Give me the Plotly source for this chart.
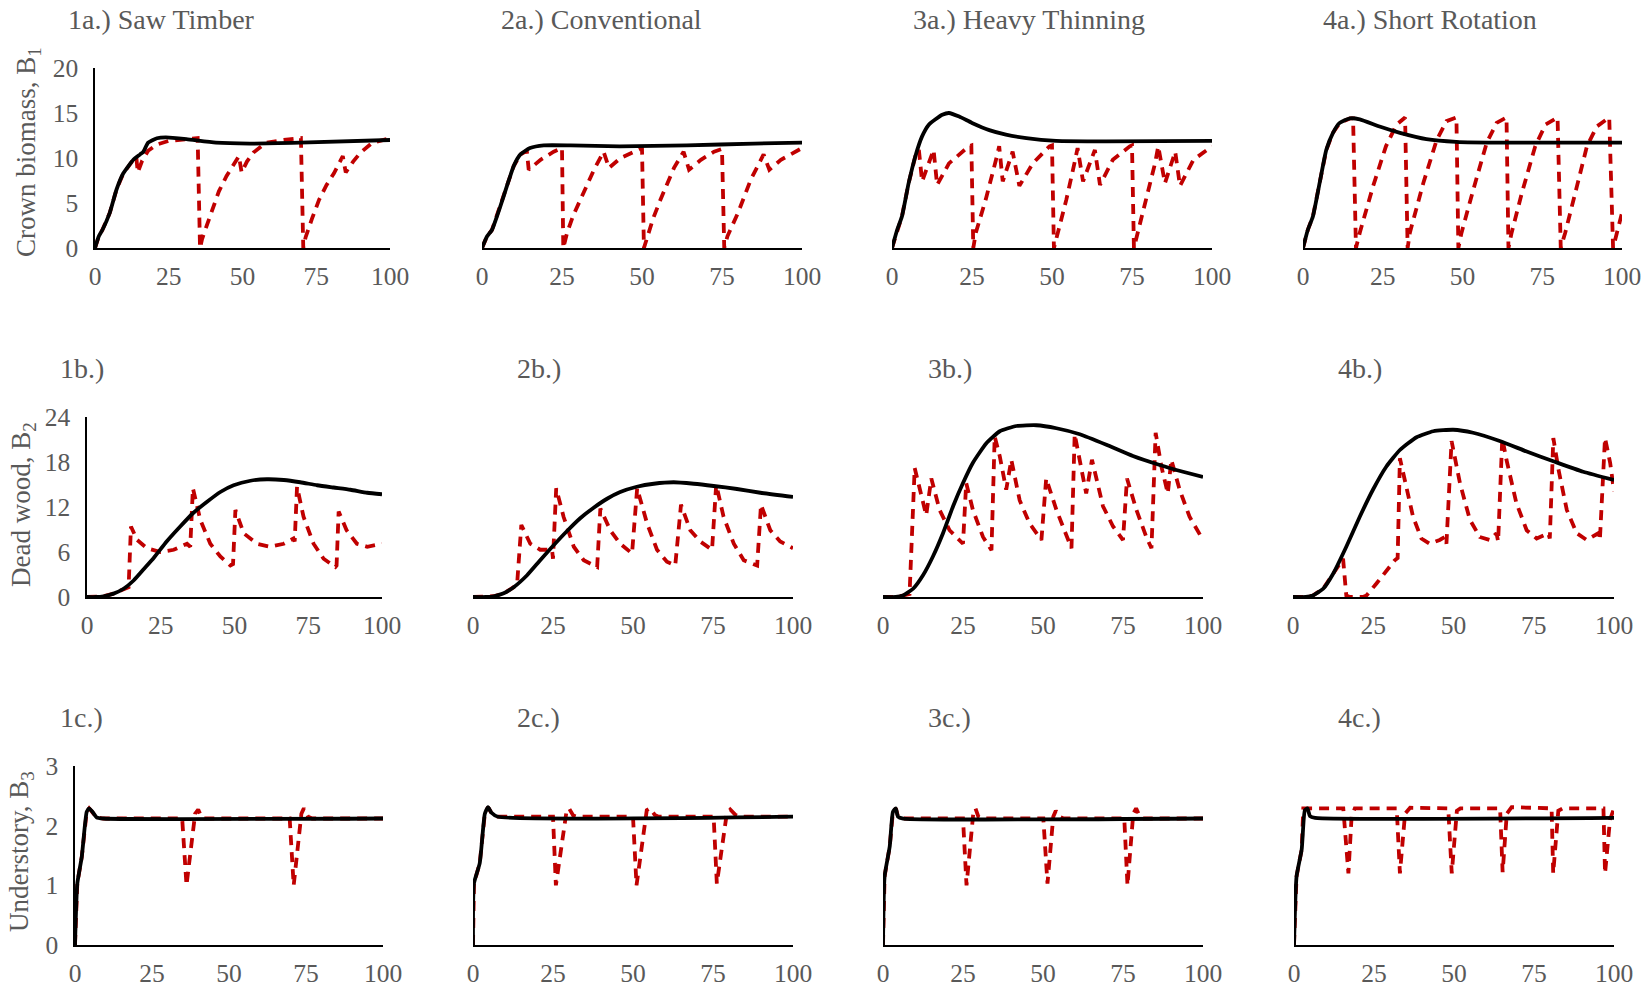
import plotly.graph_objects as go

# ---------------- data ----------------
# Row a: crown biomass B1
saw_b1_x_solid = [0, 1.3, 2.5, 5, 7.3, 9.6, 13, 15.3, 16.4, 18, 21, 24, 31, 41, 52.5, 69.5, 100]
saw_b1_solid = [0, 1.3, 2, 3.9, 6.5, 8.3, 9.8, 10.4, 10.7, 11.7, 12.2, 12.3, 12.1, 11.7, 11.6, 11.7, 12.0]
saw_b1_x_dash = [0, 1.3, 2.5, 5, 7.3, 9.6, 13, 14, 14.5, 16, 18, 21, 25, 30, 34.8, 35.6, 36.3, 38, 40, 42, 44.6, 47, 48.8,
                 49.7, 51.5, 53.7, 58, 64, 69.8, 70.6, 71.4, 73.5, 76, 78.5, 81, 84, 85, 87.5, 90, 94, 100]
saw_b1_dash = [0, 1.3, 2, 3.9, 6.5, 8.3, 9.8, 10.1, 8.4, 9.7, 10.8, 11.5, 11.9, 12.1, 12.2, 0, 1.0, 2.6, 4.6, 6.3, 8.0, 9.3, 10.2,
               8.4, 9.6, 10.6, 11.7, 12.0, 12.2, 0, 1.2, 3.2, 5.4, 7.0, 8.3, 10.2, 8.4, 9.6, 10.6, 11.7, 12.2]

con_b1_x_solid = [0, 1.6, 3.1, 5.7, 7.8, 9.9, 12, 15, 19.3, 27.7, 43, 64, 85, 100]
con_b1_solid = [0, 1.3, 2, 4.6, 6.9, 9.1, 10.4, 11.1, 11.4, 11.4, 11.3, 11.4, 11.6, 11.7]
con_b1_x_dash = [0, 1.6, 3.1, 5.7, 7.8, 9.9, 12, 14, 14.6, 18.3, 22.4, 25, 25.4, 26.6, 28.5, 30.8, 35, 38, 39.7, 43.3, 47.5,
                 50, 50.6, 51.7, 53.5, 55.8, 60, 63, 64.7, 68.4, 72.5, 75, 75.7, 76.7, 80, 84, 88, 89.8, 93.4, 100]
con_b1_dash = [0, 1.3, 2, 4.6, 6.9, 9.1, 10.4, 10.8, 8.7, 9.8, 10.7, 11.1, 0, 1.7, 3.6, 5.4, 8.7, 10.7, 8.9, 10.0, 10.7,
               11.1, 0, 1.3, 3.3, 5.4, 8.9, 10.7, 8.7, 9.8, 10.7, 11.0, 0, 1.3, 3.9, 7.6, 10.4, 8.7, 9.8, 11.1]

hvy_b1_x_solid = [0, 1.6, 3.1, 5.2, 7.3, 9.4, 11.5, 13.6, 15.7, 17.8, 21, 25, 30.4, 35.6, 42, 51.3, 67, 100]
hvy_b1_solid = [0, 2, 3.5, 7.2, 10.2, 12.4, 13.7, 14.3, 14.8, 15, 14.6, 13.9, 13.1, 12.6, 12.2, 11.9, 11.85, 11.9]
hvy_b1_x_dash = [0, 1.6, 3.1, 5.2, 7.3, 8.4, 9.4, 13, 14.1, 17.8, 21, 24, 24.8, 25.4, 26.2, 29.3, 32.5, 33.5, 34.6, 37.7,
                 39.8, 44, 49.2, 50, 50.6, 51.8, 54.5, 57, 58, 59.7, 63.4, 65, 69, 74.3, 75, 75.6, 77, 79.6, 82.2, 83.2,
                 85.3, 88.5, 90, 94.2, 100]
hvy_b1_dash = [0, 2, 3.5, 7.2, 10.2, 10.9, 7.4, 10.9, 7.0, 9.4, 10.4, 11.3, 11.4, 0, 1.7, 5.4, 9.8, 11.3, 7.4, 10.7,
               6.9, 9.4, 11.3, 11.4, 0, 1.7, 5.4, 9.4, 11.1, 7.4, 10.9, 7.0, 9.8, 11.3, 11.4, 0, 2.0, 5.4, 9.4, 11.3,
               7.2, 10.7, 6.9, 9.8, 11.3]

sht_b1_x_solid = [0, 1.5, 3.1, 5.2, 7.3, 9.4, 11.5, 14.7, 17.8, 24, 30.4, 38.7, 48, 64, 100]
sht_b1_solid = [0, 2, 3.5, 7.2, 10.9, 12.8, 13.9, 14.4, 14.3, 13.5, 12.8, 12.1, 11.8, 11.7, 11.7]
sht_b1_x_dash = [0, 1.5, 3.1, 5.2, 7.3, 9.4, 11.5, 14.7, 15.7, 16.6, 17.8, 22, 26, 29.3, 31.4, 32, 32.8, 33.5, 37.7, 41.9,
                 45, 47.6, 48.1, 48.7, 49.7, 53.4, 57.6, 60.7, 63.4, 63.8, 64.4, 65.4, 68.6, 72.8, 76, 79.1, 79.8, 80.8,
                 82.2, 85.9, 89, 92.1, 95.3, 96, 97.2, 97.9, 100]
sht_b1_dash = [0, 2, 3.5, 7.2, 10.9, 12.8, 13.9, 14.4, 14.4, 0, 1.7, 6.9, 11.3, 13.7, 14.4, 14.5, 0, 1.7, 7.2, 12.0,
               14.1, 14.4, 14.5, 0, 1.7, 6.5, 11.7, 13.9, 14.4, 14.5, 0, 1.7, 6.1, 11.3, 13.7, 14.4, 14.5, 0,
               1.7, 6.9, 11.3, 13.5, 14.4, 14.5, 0, 0.9, 3.9]

# Row b: dead wood B2
saw_b2_x_solid = [0, 3, 5.6, 9, 12.4, 15.8, 19.2, 22.6, 27, 31.6, 36, 40.7, 45.2, 49.7, 55.4, 61, 66.7, 72.3, 78, 83.6, 89.3, 95, 100]
saw_b2_solid = [0, 0, 0.1, 0.45, 1.1, 2.2, 3.7, 5.2, 7.4, 9.4, 11.2, 12.7, 14.0, 14.9, 15.5, 15.7, 15.6, 15.3, 14.9, 14.6, 14.3, 13.9, 13.7]
saw_b2_x_dash = [0, 3, 5.6, 9, 12.4, 14.1, 14.9, 17, 20.3, 24.9, 29.4, 33.9, 35, 35.9, 38.4, 41.8, 45.2, 48.6, 49.5, 50.3,
                 53.1, 57.6, 62, 66.7, 70, 70.4, 71.2, 73.4, 76.8, 80.2, 84.2, 84.6, 85.3, 88, 91.5, 95, 100]
saw_b2_dash = [0, 0, 0.1, 0.45, 1.1, 1.3, 9.4, 7.6, 6.5, 6.0, 6.3, 7.1, 6.7, 14.5, 10.3, 7.1, 5.4, 4.2, 4.4, 11.6,
               8.5, 7.1, 6.7, 7.1, 7.8, 7.4, 14.7, 10.7, 7.1, 5.1, 4.0, 4.2, 11.4, 8.9, 7.1, 6.7, 7.1]

con_b2_x_solid = [0, 4, 6.5, 9.6, 12.7, 16.9, 21, 25.2, 29.4, 33.5, 37.7, 41.9, 46, 51.2, 56.5, 62.7, 69, 75.2, 82.5, 89.8, 100]
con_b2_solid = [0, 0, 0.1, 0.5, 1.3, 2.9, 4.9, 6.9, 8.8, 10.5, 11.9, 13.1, 14.0, 14.7, 15.1, 15.3, 15.1, 14.8, 14.4, 13.9, 13.35]
con_b2_x_dash = [0, 4, 6.5, 9.6, 12.7, 13.8, 15.1, 17.9, 21, 24.7, 25, 26, 28.3, 31.5, 34.6, 38.8, 39.8, 42.9, 46, 49.7,
                 51.3, 54.4, 57.5, 60.6, 63.2, 65, 67.9, 71, 74.7, 76, 78.3, 81.5, 84.6, 88.8, 90, 92.9, 96, 100]
con_b2_dash = [0, 0, 0.1, 0.5, 1.3, 1.8, 9.6, 7.1, 6.3, 6.3, 5.1, 14.5, 10.7, 6.7, 4.9, 4.0, 11.8, 8.9, 7.1, 5.8,
               14.5, 9.8, 6.3, 4.7, 4.2, 12.3, 8.9, 7.4, 6.3, 15.0, 10.7, 7.1, 4.9, 4.2, 12.3, 8.9, 7.4, 6.5]

hvy_b2_x_solid = [0, 4, 6.25, 9.4, 12.5, 15.6, 18.75, 21.9, 25, 28.1, 32.3, 36.5, 41.7, 47.9, 54.2, 61.5, 69.8, 78.1, 86.5, 93.75, 100]
hvy_b2_solid = [0, 0, 0.2, 1.1, 2.9, 5.4, 8.5, 12.1, 15.2, 17.9, 20.5, 22.1, 22.8, 22.9, 22.5, 21.7, 20.3, 18.8, 17.6, 16.7, 16.0]
hvy_b2_x_dash = [0, 4, 6.25, 8.3, 9.9, 11.5, 13.5, 15.1, 17.7, 20.8, 25, 26, 28.1, 31.25, 33.9, 34.9, 36.5, 38.5, 40.1,
                 42.7, 45.8, 49.5, 51, 54.2, 57.3, 58.9, 59.9, 62, 63.5, 65.3, 68.75, 71.9, 75, 76.25, 79.2, 82.3,
                 83.9, 85.2, 87, 89, 90.1, 92.7, 95.8, 100]
hvy_b2_dash = [0, 0, 0.2, 0.4, 17.2, 14.3, 10.9, 15.8, 11.6, 8.9, 7.1, 15.2, 11.6, 8.0, 6.25, 21.4, 18.75, 14.3, 18.3,
               12.9, 9.8, 7.6, 15.8, 11.6, 8.0, 6.5, 21.7, 17.4, 13.8, 18.3, 12.1, 9.4, 7.6, 15.8, 11.6, 8.0,
               6.5, 21.9, 17.4, 13.8, 18.3, 14.3, 10.7, 7.6]

sht_b2_x_solid = [0, 4, 6.2, 9.4, 12.5, 16.6, 20.8, 24.9, 29.1, 33.3, 38.5, 43.7, 49.9, 56.1, 64.4, 72.8, 81.1, 90.4, 100]
sht_b2_solid = [0, 0, 0.2, 1.1, 3.1, 6.7, 10.7, 14.3, 17.4, 19.6, 21.3, 22.1, 22.3, 21.9, 20.8, 19.4, 18.1, 16.7, 15.6]
sht_b2_x_dash = [0, 4, 6.2, 9.4, 12.5, 14.6, 15.6, 16.6, 17.7, 21.8, 22.9, 26, 29.1, 31.7, 32.6, 33.3, 35.3, 37.4, 40,
                 42.6, 45.7, 47.3, 47.8, 49.4, 52, 55.1, 58.2, 61.3, 63.4, 63.9, 65.2, 66.5, 69.6, 72.8, 75.9, 79.5,
                 80, 81.1, 82.7, 85.3, 88.4, 91.5, 95.1, 95.6, 97.2, 98.8, 100]
sht_b2_dash = [0, 0, 0.2, 1.1, 3.1, 4.5, 5.1, 0.2, 0, 0, 0.2, 1.8, 3.6, 4.9, 5.2, 18.5, 14.7, 10.7, 7.8,
               7.1, 7.6, 8.0, 7.1, 20.8, 15.2, 10.3, 8.0, 7.6, 8.5, 7.4, 21.2, 18.3, 12.5, 8.9, 7.8, 8.5,
               7.8, 21.2, 17.0, 11.6, 8.5, 7.6, 8.5, 7.6, 21.2, 17.9, 14.1]

# Row c: understory B3
saw_b3_x_solid = [0, 0.75, 2.2, 3.8, 4.6, 5.7, 7, 9.2, 100]
saw_b3_solid = [0, 1.03, 1.48, 2.23, 2.29, 2.23, 2.14, 2.12, 2.12]
saw_b3_x_dash = [0, 0.75, 2.2, 3.8, 4.6, 5.7, 7, 9.2, 34.8, 36.2, 39, 40, 41, 42, 69.7, 71, 73.5, 74.3, 75.7, 77, 100]
saw_b3_dash = [0, 1.03, 1.48, 2.23, 2.29, 2.23, 2.14, 2.12, 2.12, 1.0, 2.2, 2.27, 2.15, 2.12, 2.12, 1.0, 2.2, 2.29, 2.15, 2.12, 2.12]

con_b3_x_solid = [0, 0.3, 2.1, 3.7, 4.7, 5.7, 7.8, 100]
con_b3_solid = [0, 1.03, 1.37, 2.2, 2.31, 2.22, 2.15, 2.15]
con_b3_x_dash = [0, 0.3, 2.1, 3.7, 4.7, 5.7, 7.8, 25, 25.9, 29.2, 30, 31.3, 32.5, 50, 51.1, 54.3, 55.3, 56.8, 58,
                 75.2, 76.2, 79.3, 80.4, 82, 83.5, 100]
con_b3_dash = [0, 1.03, 1.37, 2.2, 2.31, 2.22, 2.15, 2.15, 1.0, 2.23, 2.29, 2.17, 2.15, 2.15, 1.0, 2.26, 2.29, 2.18, 2.15,
               2.15, 1.03, 2.2, 2.27, 2.18, 2.15, 2.15]

hvy_b3_x_solid = [0, 0.5, 2.1, 3.1, 4, 4.7, 6.3, 100]
hvy_b3_solid = [0, 1.15, 1.65, 2.23, 2.29, 2.15, 2.12, 2.12]
hvy_b3_x_dash = [0, 0.5, 2.1, 3.1, 4, 4.7, 6.3, 25, 26.1, 28.2, 28.9, 29.8, 31, 50.1, 51.4, 53.2, 54, 55.2, 56.5,
                 75.4, 76.4, 78.2, 79.1, 80.3, 81.5, 100]
hvy_b3_dash = [0, 1.15, 1.65, 2.23, 2.29, 2.15, 2.12, 2.12, 1.0, 2.2, 2.29, 2.15, 2.12, 2.12, 1.03, 2.15, 2.25, 2.15, 2.12,
               2.12, 1.0, 2.2, 2.29, 2.15, 2.12, 2.12]

sht_b3_x_solid = [0, 0.8, 2.4, 3.4, 4.2, 5, 6.6, 100]
sht_b3_solid = [0, 1.15, 1.6, 2.26, 2.29, 2.16, 2.13, 2.13]
sht_b3_x_dash = [0, 0.8, 2.4, 2.9, 15.4, 17, 18, 19, 32.1, 33.1, 34.7, 36.3, 48.2, 49.3, 50.9, 52, 64.4, 65.2, 66.5, 68,
                 80.5, 81, 82.6, 84, 96.7, 97.2, 98.75, 99.8, 100]
sht_b3_dash = [0, 1.15, 1.6, 2.29, 2.29, 1.2, 2.15, 2.29, 2.29, 1.2, 2.2, 2.3, 2.29, 1.2, 2.25, 2.29, 2.29, 1.22, 2.2, 2.31,
               2.29, 1.2, 2.25, 2.29, 2.29, 1.2, 2.1, 2.29, 2.29]

# tick labels / titles
x_ticks = [0, 25, 50, 75, 100]
b1_ticks = [0, 5, 10, 15, 20]
b2_ticks = [0, 6, 12, 18, 24]
b3_ticks = [0, 1, 2, 3]
panel_titles = ["1a.) Saw Timber", "2a.) Conventional", "3a.) Heavy Thinning", "4a.) Short Rotation",
                "1b.)", "2b.)", "3b.)", "4b.)",
                "1c.)", "2c.)", "3c.)", "4c.)"]
row_ytitles = ["Crown biomass, B<sub>1</sub>", "Dead wood, B<sub>2</sub>", "Understory, B<sub>3</sub>"]

# ---------------- layout geometry (page pixels) ----------------
W, H = 1652, 987
FONT = "Liberation Serif, Times New Roman, serif"
GREY = "#595959"
RED = "#C00000"


def px_x(p):
    return p / W


def px_y(p):
    return 1 - p / H


col_px = [
    [(95, 390), (482, 802), (892, 1212), (1303, 1622)],
    [(87, 382), (473, 793), (883, 1203), (1293, 1614)],
    [(75, 383), (473, 793), (883, 1203), (1294, 1614)],
]
row_px = [(68, 248), (417, 597), (766, 945)]
title_px = [
    [(66, 20), (499, 20), (911, 20), (1321, 20)],
    [(58, 368), (515, 368), (926, 368), (1336, 368)],
    [(58, 717), (515, 717), (926, 717), (1336, 717)],
]
ytitle_px = [(28, 152), (23, 505), (21, 852)]

row_ranges = [20, 24, 3]
row_ticks = [b1_ticks, b2_ticks, b3_ticks]

series = [
    [(saw_b1_x_solid, saw_b1_solid, saw_b1_x_dash, saw_b1_dash),
     (con_b1_x_solid, con_b1_solid, con_b1_x_dash, con_b1_dash),
     (hvy_b1_x_solid, hvy_b1_solid, hvy_b1_x_dash, hvy_b1_dash),
     (sht_b1_x_solid, sht_b1_solid, sht_b1_x_dash, sht_b1_dash)],
    [(saw_b2_x_solid, saw_b2_solid, saw_b2_x_dash, saw_b2_dash),
     (con_b2_x_solid, con_b2_solid, con_b2_x_dash, con_b2_dash),
     (hvy_b2_x_solid, hvy_b2_solid, hvy_b2_x_dash, hvy_b2_dash),
     (sht_b2_x_solid, sht_b2_solid, sht_b2_x_dash, sht_b2_dash)],
    [(saw_b3_x_solid, saw_b3_solid, saw_b3_x_dash, saw_b3_dash),
     (con_b3_x_solid, con_b3_solid, con_b3_x_dash, con_b3_dash),
     (hvy_b3_x_solid, hvy_b3_solid, hvy_b3_x_dash, hvy_b3_dash),
     (sht_b3_x_solid, sht_b3_solid, sht_b3_x_dash, sht_b3_dash)],
]

fig = go.Figure()
layout = dict(
    template="none",
    width=W, height=H, margin=dict(l=0, r=0, t=0, b=0, pad=0, autoexpand=False),
    paper_bgcolor="white", plot_bgcolor="white", showlegend=False,
    font=dict(family=FONT, color=GREY),
)
annotations = []

k = 0
for r in range(3):
    for c in range(4):
        k += 1
        xs, ys, xd, yd = series[r][c]
        xn = "x" if k == 1 else f"x{k}"
        yn = "y" if k == 1 else f"y{k}"
        fig.add_trace(go.Scatter(x=xd, y=yd, mode="lines", xaxis=xn, yaxis=yn,
                                 line=dict(color=RED, width=3.8, dash="10px,7px"), hoverinfo="skip"))
        fig.add_trace(go.Scatter(x=xs, y=ys, mode="lines", xaxis=xn, yaxis=yn,
                                 line=dict(color="black", width=3.8, shape="spline", smoothing=0.5),
                                 hoverinfo="skip"))
        x0, x1 = col_px[r][c]
        y0, y1 = row_px[r]
        xkey = "xaxis" if k == 1 else f"xaxis{k}"
        ykey = "yaxis" if k == 1 else f"yaxis{k}"
        layout[xkey] = dict(
            domain=[px_x(x0), px_x(x1)], anchor=yn, range=[0, 100], automargin=False,
            tickmode="array", tickvals=x_ticks, ticktext=[str(v) for v in x_ticks],
            showline=True, linecolor="black", linewidth=1.5, showgrid=False, zeroline=False,
            ticks="", ticklabelstandoff=5,
            tickfont=dict(family=FONT, size=25.5, color=GREY),
        )
        yax = dict(
            domain=[px_y(y1), px_y(y0)], anchor=xn, range=[0, row_ranges[r]], automargin=False,
            showgrid=False, zeroline=False,
        )
        if c == 0:
            yax.update(tickmode="array", tickvals=row_ticks[r], ticktext=[str(v) for v in row_ticks[r]],
                       showline=True, linecolor="black", linewidth=1.5, ticks="",
                       ticklabelstandoff=10, tickfont=dict(family=FONT, size=25.5, color=GREY))
        else:
            yax.update(showline=False, showticklabels=False, ticks="")
        layout[ykey] = yax

        tx, ty = title_px[r][c]
        annotations.append(dict(text=panel_titles[k - 1], xref="paper", yref="paper",
                                x=px_x(tx), y=px_y(ty), xanchor="left", yanchor="middle",
                                showarrow=False, font=dict(family=FONT, size=28, color=GREY)))

for r in range(3):
    cx, cy = ytitle_px[r]
    annotations.append(dict(text=row_ytitles[r], xref="paper", yref="paper",
                            x=px_x(cx), y=px_y(cy), xanchor="center", yanchor="middle",
                            textangle=-90, showarrow=False,
                            font=dict(family=FONT, size=27, color=GREY)))

layout["annotations"] = annotations
fig.update_layout(**layout)
fig.write_html("out.html")
